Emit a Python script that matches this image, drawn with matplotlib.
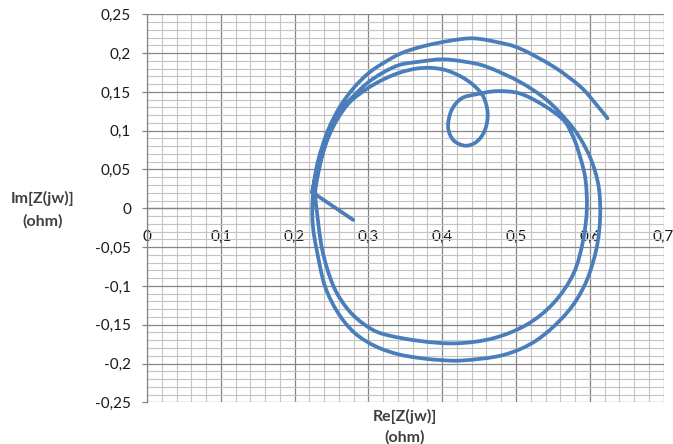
import matplotlib
matplotlib.use("Agg")
import matplotlib.pyplot as plt
from matplotlib.ticker import MultipleLocator
from matplotlib.path import Path
from matplotlib.patches import PathPatch

# ---- data (Re, Im of Z(jw), ohm) ----
re_z = [0.624, 0.606, 0.587, 0.551, 0.505, 0.475, 0.442, 0.411, 0.375, 0.345,
        0.320, 0.300, 0.280, 0.2615, 0.245, 0.232, 0.226, 0.224, 0.225, 0.230,
        0.241, 0.259, 0.2818, 0.310, 0.340, 0.370, 0.397, 0.4286, 0.483, 0.528,
        0.5687, 0.594, 0.609, 0.614, 0.612, 0.602, 0.587, 0.569, 0.5416, 0.505,
        0.460, 0.430, 0.400, 0.370, 0.343, 0.320, 0.298, 0.275, 0.262, 0.248,
        0.238, 0.231, 0.228, 0.2297, 0.2375, 0.2525, 0.272, 0.295, 0.320, 0.370,
        0.4196, 0.469, 0.5145, 0.551, 0.578, 0.591, 0.596, 0.5935, 0.583, 0.575,
        0.564, 0.537, 0.505, 0.474, 0.4467, 0.4264, 0.4128, 0.408, 0.415, 0.431,
        0.4467, 0.458, 0.4616, 0.4557, 0.442, 0.425, 0.405, 0.385, 0.365, 0.343,
        0.320, 0.298, 0.275, 0.258, 0.245, 0.235, 0.228, 0.2235, 0.2795]
im_z = [0.116, 0.137, 0.157, 0.1825, 0.206, 0.214, 0.219, 0.216, 0.209, 0.200,
        0.187, 0.174, 0.155, 0.131, 0.100, 0.062, 0.030, 0.000, -0.025, -0.0537,
        -0.100, -0.135, -0.161, -0.178, -0.188, -0.193, -0.1955, -0.196, -0.189, -0.170,
        -0.135, -0.097, -0.052, -0.011, 0.028, 0.062, 0.090, 0.113, 0.1396, 0.163,
        0.1825, 0.189, 0.192, 0.189, 0.185, 0.175, 0.161, 0.140, 0.126, 0.100,
        0.070, 0.040, 0.020, 0.000, -0.0537, -0.100, -0.130, -0.150, -0.162, -0.171,
        -0.174, -0.1675, -0.150, -0.122, -0.084, -0.041, 0.000, 0.041, 0.078, 0.097,
        0.114, 0.133, 0.148, 0.151, 0.147, 0.1417, 0.1267, 0.105, 0.088, 0.0807,
        0.0858, 0.101, 0.1224, 0.144, 0.159, 0.170, 0.178, 0.181, 0.180, 0.175,
        0.166, 0.154, 0.137, 0.115, 0.090, 0.062, 0.040, 0.021, -0.015]

x_ticks = [0, 0.1, 0.2, 0.3, 0.4, 0.5, 0.6, 0.7]
x_labels = ["0", "0,1", "0,2", "0,3", "0,4", "0,5", "0,6", "0,7"]
y_ticks = [-0.25, -0.2, -0.15, -0.1, -0.05, 0, 0.05, 0.1, 0.15, 0.2, 0.25]
y_labels = ["-0,25", "-0,2", "-0,15", "-0,1", "-0,05", "0",
            "0,05", "0,1", "0,15", "0,2", "0,25"]

W, H = 673, 444
plt.rcParams["font.family"] = ["Lato", "DejaVu Sans"]
fig = plt.figure(figsize=(W / 100, H / 100), dpi=100)
fig.patch.set_facecolor("white")

ax = fig.add_axes([147 / W, 1 - 402.3 / H, 516.6 / W, 388 / H])
ax.set_xlim(0, 0.7)
ax.set_ylim(-0.25, 0.25)

ax.xaxis.set_major_locator(MultipleLocator(0.1))
ax.xaxis.set_minor_locator(MultipleLocator(0.02))
ax.yaxis.set_major_locator(MultipleLocator(0.05))
ax.yaxis.set_minor_locator(MultipleLocator(0.01))
ax.grid(which="minor", color="#C4C4C4", linewidth=0.8, zorder=0)
ax.grid(which="major", color="#868686", linewidth=0.9, zorder=0)
ax.set_axisbelow(True)

ax.set_xticks(x_ticks)
ax.set_xticklabels(x_labels)
ax.set_yticks(y_ticks)
ax.set_yticklabels(y_labels)

for s in ["top", "right"]:
    ax.spines[s].set_visible(False)
ax.spines["left"].set_color("#868686")
ax.spines["left"].set_linewidth(0.9)
ax.spines["bottom"].set_position(("data", 0))
ax.spines["bottom"].set_color("#868686")
ax.spines["bottom"].set_linewidth(0.9)

ax.tick_params(axis="y", which="major", length=3.6, width=0.9, color="#868686",
               pad=8, labelsize=11, labelcolor="#1A1A1A")
ax.tick_params(axis="x", which="major", length=0, pad=15.5,
               labelsize=11, labelcolor="#1A1A1A")
ax.tick_params(which="minor", length=0)

# smoothed line through the read points (like a spreadsheet "smooth line" series);
# the next-to-last point is a sharp corner, the last stroke is straight
pts = list(zip(re_z, im_z))
verts = [pts[0]]
codes = [Path.MOVETO]
n = len(pts)
corner = n - 2
for i in range(n - 1):
    p1 = pts[i]
    p2 = pts[i + 1]
    p0 = pts[i - 1] if (i > 0 and i != corner) else p1
    p3 = pts[i + 2] if (i + 2 < n and i + 1 != corner) else p2
    c1 = (p1[0] + (p2[0] - p0[0]) / 6, p1[1] + (p2[1] - p0[1]) / 6)
    c2 = (p2[0] - (p3[0] - p1[0]) / 6, p2[1] - (p3[1] - p1[1]) / 6)
    verts += [c1, c2, p2]
    codes += [Path.CURVE4] * 3
ax.add_patch(PathPatch(Path(verts, codes), facecolor="none", edgecolor="#4A7EBB",
                       linewidth=2.7, joinstyle="miter", capstyle="round",
                       zorder=3))

tkw = dict(ha="center", va="center", fontsize=11.5, fontweight="bold",
           color="#404040")
fig.text(42.5 / W, 1 - 198 / H, "Im[Z(jw)]", **tkw)
fig.text(42.5 / W, 1 - 221 / H, "(ohm)", **tkw)
fig.text(405 / W, 1 - 416 / H, "Re[Z(jw)]", **tkw)
fig.text(405 / W, 1 - 437 / H, "(ohm)", **tkw)

fig.savefig("out.png", dpi=100, facecolor="white")
